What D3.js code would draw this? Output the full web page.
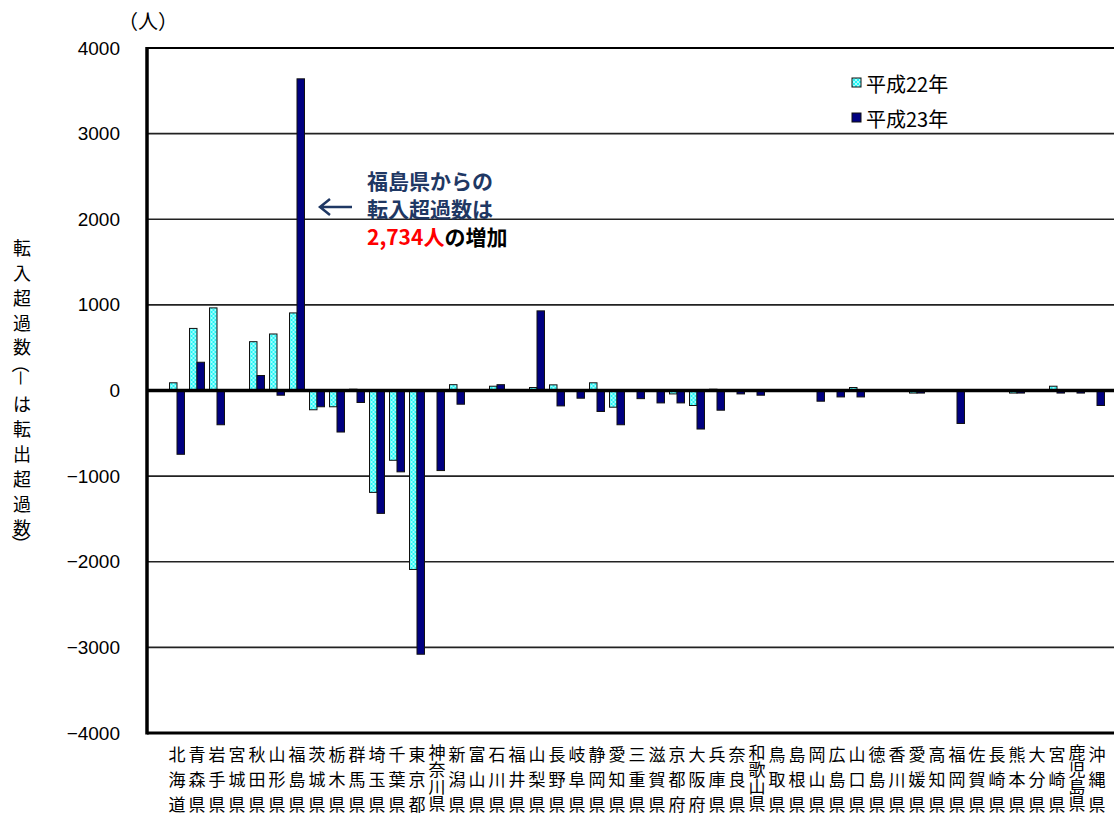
<!DOCTYPE html>
<html><head><meta charset="utf-8">
<script src="https://cdn.jsdelivr.net/npm/d3@7"></script>
<style>
html,body{margin:0;padding:0;background:#fff;}
svg{display:block;}
</style></head>
<body>
<svg id="chart" width="1114" height="814"></svg>
<script>
const prefectures = ["北海道","青森県","岩手県","宮城県","秋田県","山形県","福島県","茨城県","栃木県","群馬県","埼玉県","千葉県","東京都","神奈川県","新潟県","富山県","石川県","福井県","山梨県","長野県","岐阜県","静岡県","愛知県","三重県","滋賀県","京都府","大阪府","兵庫県","奈良県","和歌山県","鳥取県","島根県","岡山県","広島県","山口県","徳島県","香川県","愛媛県","高知県","福岡県","佐賀県","長崎県","熊本県","大分県","宮崎県","鹿児島県","沖縄県"];
const seriesNames = ["平成22年","平成23年"];
const h22 = [90,725,965,0,570,660,906,-225,-190,15,-1190,-815,-2090,-5,68,5,50,10,35,66,0,90,-195,-5,-5,-40,-175,15,10,0,10,10,5,10,35,5,10,-30,10,5,5,10,-30,10,50,10,10];
const h23 = [-745,330,-400,0,175,-55,3640,-190,-485,-140,-1435,-950,-3080,-935,-160,0,68,5,930,-180,-90,-245,-400,-95,-145,-145,-450,-230,-40,-55,5,5,-125,-75,-75,0,5,-30,5,-385,5,5,-30,5,-30,-30,-175];
const yTicks = [4000,3000,2000,1000,0,-1000,-2000,-3000,-4000];
const yTitleChars = ["転","入","超","過","数","（","－","は","転","出","超","過","数","）"];
const unitLabel = "（人）";
const noteLines = ["福島県からの","転入超過数は"];
const noteNumber = "2,734人";
const noteTail = "の増加";

(function(){
const svg = d3.select("#chart");
const FONT = "'Noto Sans CJK JP','Noto Sans',sans-serif";
const NUMFONT = "'Liberation Sans',Arial,sans-serif";
const pLeft = 147, pRight = 1114, pTop = 48, pBottom = 733;

svg.append("rect").attr("width",1114).attr("height",814).attr("fill","#fff");

const defs = svg.append("defs");
const pat = defs.append("pattern").attr("id","hatch").attr("patternUnits","userSpaceOnUse")
  .attr("width",4).attr("height",4);
pat.append("rect").attr("width",4).attr("height",4).attr("fill","#22F5F5");
pat.append("path").attr("d","M0,0L4,4M4,0L0,4").attr("stroke","#C8FFFF").attr("stroke-width",0.8);

const y = d3.scaleLinear().domain([-4000,4000]).range([pBottom, pTop]);
const x = d3.scaleBand().domain(prefectures).range([167,1107]).paddingInner(0.25).paddingOuter(0.125);
const xs = d3.scaleBand().domain(seriesNames).range([0, x.bandwidth()]);

// gridlines
svg.append("g").selectAll("line").data(yTicks.filter(v => v !== 0 && v !== -4000 && v !== 4000))
  .join("line").attr("x1",pLeft).attr("x2",pRight).attr("y1",d=>y(d)).attr("y2",d=>y(d))
  .attr("stroke","#222").attr("stroke-width",1.6);
svg.append("line").attr("x1",pLeft).attr("x2",pRight).attr("y1",y(4000)).attr("y2",y(4000))
  .attr("stroke","#000").attr("stroke-width",2.2);

// bars
const data = prefectures.map((p,i)=>({p, vals:[{s:seriesNames[0],v:h22[i]},{s:seriesNames[1],v:h23[i]}]}));
const groups = svg.append("g").selectAll("g").data(data).join("g")
  .attr("transform", d=>`translate(${x(d.p)},0)`);
groups.selectAll("rect").data(d=>d.vals).join("rect")
  .attr("x", d=>xs(d.s)).attr("width", xs.bandwidth())
  .attr("y", d=>y(Math.max(0,d.v))).attr("height", d=>Math.abs(y(d.v)-y(0)))
  .attr("fill", d=> d.s===seriesNames[0] ? "url(#hatch)" : "#000080")
  .attr("stroke","#111").attr("stroke-width",1);

// zero line, axes
svg.append("line").attr("x1",pLeft).attr("x2",pRight).attr("y1",y(0)).attr("y2",y(0))
  .attr("stroke","#000").attr("stroke-width",3.5);
svg.append("line").attr("x1",pLeft).attr("x2",pRight).attr("y1",pBottom).attr("y2",pBottom)
  .attr("stroke","#000").attr("stroke-width",3);
svg.append("line").attr("x1",pLeft).attr("x2",pLeft).attr("y1",pTop-1).attr("y2",pBottom+1.5)
  .attr("stroke","#000").attr("stroke-width",3.5);

// y axis labels
const yAxis = svg.append("g").attr("transform",`translate(${pLeft},0)`)
  .call(d3.axisLeft(y).tickValues(yTicks).tickFormat(d3.format("d")).tickSize(0).tickPadding(27));
yAxis.select(".domain").remove();
yAxis.selectAll("text").attr("font-family",NUMFONT).attr("font-size",19).attr("fill","#000");

// unit label
svg.append("text").attr("x",118).attr("y",29).attr("font-family",FONT).attr("font-size",20)
  .attr("fill","#000").text(unitLabel);

// y title
const yPos = [247,272,297,322,346,364,378,403,428,453,478,503,527,544];
yTitleChars.forEach((c,i)=>{
  const rot = (c==="（"||c==="）"||c==="－");
  svg.append("text").attr("font-family",FONT).attr("font-size",18).attr("fill","#000")
    .attr("text-anchor","middle").attr("dominant-baseline","central")
    .attr("transform", `translate(22,${yPos[i]})` + (rot?" rotate(90)":""))
    .text(c);
});

// x labels
const xl = svg.append("g");
prefectures.forEach(p=>{
  const chars = Array.from(p);
  const cx = x(p) + x.bandwidth()/2;
  if (chars.length === 4) {
    // four-character names are stacked tightly as one vertical text
    xl.append("text").attr("x",cx).attr("y",744.5)
      .style("writing-mode","vertical-rl").style("text-orientation","upright")
      .attr("font-family",FONT).attr("font-size",17).attr("fill","#000").text(p);
  } else {
    const ys = [753,778,803];
    chars.forEach((c,i)=>{
      xl.append("text").attr("x",cx).attr("y",ys[i]).attr("text-anchor","middle")
        .attr("dominant-baseline","central").attr("font-family",FONT).attr("font-size",17)
        .attr("fill","#000").text(c);
    });
  }
});

// legend
seriesNames.forEach((s,i)=>{
  const ly = 83 + i*35;
  svg.append("rect").attr("x",852).attr("y",ly-5).attr("width",9).attr("height",9)
    .attr("fill", i===0 ? "url(#hatch)" : "#000080").attr("stroke","#111").attr("stroke-width",1);
  svg.append("text").attr("x",866).attr("y",ly).attr("dominant-baseline","central")
    .attr("font-family",FONT).attr("font-size",20).attr("fill","#000").text(s);
});

// annotation
const noteColor = "#1F3864";
noteLines.forEach((t,i)=>{
  svg.append("text").attr("x",367).attr("y",180+i*28).attr("dominant-baseline","central")
    .attr("font-family",FONT).attr("font-size",21).attr("font-weight","bold")
    .attr("fill",noteColor).text(t);
});
const t3 = svg.append("text").attr("x",367).attr("y",236).attr("dominant-baseline","central")
  .attr("font-family",FONT).attr("font-size",21).attr("font-weight","bold");
t3.append("tspan").attr("fill","#FF0000").text(noteNumber);
t3.append("tspan").attr("fill","#000").text(noteTail);
svg.append("path").attr("d","M352,207H320M330,199L320,207L330,215")
  .attr("fill","none").attr("stroke",noteColor).attr("stroke-width",2.5);
})();
</script>
</body></html>
